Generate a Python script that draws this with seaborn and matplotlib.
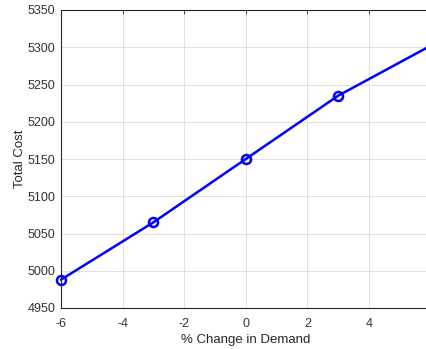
import matplotlib
matplotlib.use("Agg")
import matplotlib.pyplot as plt
import seaborn as sns
import pandas as pd

demand_change = [-6, -3, 0, 3, 6]
total_cost = [4988, 5065, 5150, 5235, 5302]
x_ticks = [-6, -4, -2, 0, 2, 4]
y_ticks = [4950, 5000, 5050, 5100, 5150, 5200, 5250, 5300, 5350]

sns.set_style("white")
plt.rcParams['font.family'] = ['Liberation Sans', 'DejaVu Sans']
plt.rcParams['axes.unicode_minus'] = False

df = pd.DataFrame({"x": demand_change, "y": total_cost})

fig = plt.figure(figsize=(4.26, 3.49), dpi=100)
ax = fig.add_axes([61/426, 41/349, 369.6/426, 298/349])

sns.lineplot(data=df, x="x", y="y", ax=ax, color=(0, 0, 1), linewidth=1.8,
             marker="o", markersize=6.5, markerfacecolor="none",
             markeredgecolor=(0, 0, 1), markeredgewidth=1.8, clip_on=False)

ax.set_xlim(-6, 6)
ax.set_ylim(4950, 5350)
ax.set_xticks(x_ticks)
ax.set_yticks(y_ticks)
ax.grid(True, color="#dcdcdc", linewidth=0.6)
ax.set_axisbelow(True)

for s in ax.spines.values():
    s.set_color("#262626")
    s.set_linewidth(0.8)

ax.tick_params(direction="in", length=3, width=0.6, colors="#262626",
               labelsize=9, top=True, right=True, labelcolor="#333333")
ax.tick_params(axis="x", pad=7)
ax.tick_params(axis="y", pad=4)
ax.set_xlabel("% Change in Demand", fontsize=9.5, color="#262626", labelpad=3)
ax.set_ylabel("Total Cost", fontsize=9.5, color="#262626", labelpad=1)

fig.savefig("out.png", dpi=100)
